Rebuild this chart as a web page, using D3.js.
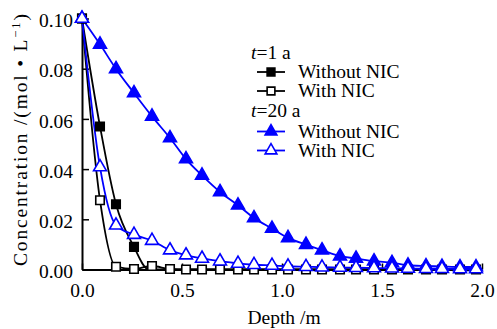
<!DOCTYPE html>
<html><head><meta charset="utf-8">
<script src="https://cdn.jsdelivr.net/npm/d3@7"></script>
<style>
html,body{margin:0;padding:0;background:#fff;}
svg{display:block;}
</style></head>
<body>
<svg id="chart" width="497" height="329"></svg>
<script>
// ---- data ----
const depthSq = [0, 0.09, 0.17, 0.26, 0.35, 0.44, 0.52, 0.60, 0.69, 0.78, 0.86, 0.95, 1.03, 1.12, 1.20, 1.29, 1.37, 1.46, 1.55, 1.63, 1.72, 1.80, 1.89, 1.97];
const t1WithoutDepth = [0, 0.09, 0.17, 0.26];
const t1WithoutConc  = [0.100, 0.057, 0.026, 0.009];
const t1WithoutTailDepth = [0.33, 0.40, 2.0];
const t1WithoutTailConc  = [0.0002, 0, 0];
const t1WithConc = [0.100, 0.0276, 0.0011, 0.0002, 0.0014, 0.0002, 0, 0, 0, 0, 0, 0, 0, 0, 0, 0, 0, 0, 0, 0, 0, 0, 0, 0];
const t20WithoutConc = [0.100, 0.0897, 0.0799, 0.0703, 0.0610, 0.0524, 0.0440, 0.0375, 0.0309, 0.0256, 0.0205, 0.0163, 0.0126, 0.0099, 0.0077, 0.0053, 0.0044, 0.0033, 0.0027, 0.0017, 0.0014, 0.0012, 0.0010, 0.0010];
const t20WithConc = [0.100, 0.0408, 0.0176, 0.0139, 0.0115, 0.0077, 0.0057, 0.0044, 0.0033, 0.0024, 0.0019, 0.0016, 0.0013, 0.0011, 0.0009, 0.0008, 0.0007, 0.0006, 0.0005, 0.0004, 0.0003, 0.0003, 0.0002, 0.0002];
const xTicks = [0, 0.5, 1.0, 1.5, 2.0];
const yTicks = [0, 0.02, 0.04, 0.06, 0.08, 0.10];
const legendRows = [
  {group: "t=1 a"},
  {label: "Without NIC", color: "#000", shape: "square", fill: "#000"},
  {label: "With NIC", color: "#000", shape: "square", fill: "#fff"},
  {group: "t=20 a"},
  {label: "Without NIC", color: "#0000ff", shape: "triangle", fill: "#0000ff"},
  {label: "With NIC", color: "#0000ff", shape: "triangle", fill: "#fff"}
];

// ---- chart ----
const FONT = "'Liberation Serif', 'Times New Roman', serif";
const svg = d3.select("#chart");
const x = d3.scaleLinear().domain([0, 2]).range([82, 482]);
const y = d3.scaleLinear().domain([0, 0.10]).range([269.5, 18.5]);
const FS = 19.5;
function txt(sel) { return sel.style("font-family", FONT).style("font-size", FS + "px").attr("fill", "#000"); }

// axes
const gx = svg.append("g").attr("transform", `translate(0,${y(0)})`)
  .call(d3.axisBottom(x).tickValues(xTicks).tickFormat(d3.format(".1f")).tickSizeInner(-6).tickSizeOuter(0).tickPadding(14));
const gy = svg.append("g").attr("transform", `translate(${x(0)},0)`)
  .call(d3.axisLeft(y).tickValues(yTicks).tickFormat(d3.format(".2f")).tickSizeInner(-7).tickSizeOuter(0).tickPadding(9));
[gx, gy].forEach(g => {
  g.selectAll("path.domain").attr("stroke", "#000").attr("stroke-width", 2);
  g.selectAll(".tick line").attr("stroke", "#000").attr("stroke-width", 1.5);
  txt(g.selectAll(".tick text"));
});
gy.selectAll(".tick text").attr("dy", "0.42em");

// axis titles
txt(svg.append("text").attr("x", 284).attr("y", 324).attr("text-anchor", "middle")).text("Depth /m");
const yl = txt(svg.append("text").attr("transform", `translate(27,140) rotate(-90)`)
  .attr("text-anchor", "middle").attr("textLength", 252).attr("lengthAdjust", "spacing"));
yl.append("tspan").text("Concentration /(mol • L");
yl.append("tspan").style("font-size", (FS*0.65) + "px").attr("dy", -7).text("−1");
yl.append("tspan").attr("dy", 7).text(")");

// lines
const line = d3.line().x(d => x(d[0])).y(d => y(d[1])).curve(d3.curveMonotoneX);
const ptsT1Without = t1WithoutDepth.map((d, i) => [d, t1WithoutConc[i]]);
const ptsT1WithoutLine = ptsT1Without.concat(t1WithoutTailDepth.map((d, i) => [d, t1WithoutTailConc[i]]));
const ptsT1With = depthSq.map((d, i) => [d, t1WithConc[i]]).concat([[2.0, 0]]);
const ptsT20Without = depthSq.map((d, i) => [d, t20WithoutConc[i]]);
const ptsT20With = depthSq.map((d, i) => [d, t20WithConc[i]]);

function drawLine(pts, color) {
  svg.append("path").datum(pts).attr("d", line).attr("fill", "none").attr("stroke", color).attr("stroke-width", 1.8);
}
drawLine(ptsT1WithoutLine, "#000");
drawLine(ptsT1With, "#000");
drawLine(ptsT20Without, "#0000ff");
drawLine(ptsT20With, "#0000ff");

const sq = d3.symbol().type(d3.symbolSquare).size(72);
const tri = d3.symbol().type(d3.symbolTriangle).size(72);
function drawMarkers(pts, gen, stroke, fill) {
  svg.append("g").selectAll("path").data(pts).join("path")
    .attr("d", gen).attr("transform", d => `translate(${x(d[0])},${y(d[1])})`)
    .attr("fill", fill).attr("stroke", stroke).attr("stroke-width", 1.6);
}
drawMarkers(ptsT1Without, sq, "#000", "#000");
drawMarkers(ptsT1With.slice(0, depthSq.length), sq, "#000", "#fff");
drawMarkers(ptsT20Without, tri, "#0000ff", "#0000ff");
drawMarkers(ptsT20With, tri, "#0000ff", "#fff");

// legend
const lg = svg.append("g");
const rowY = [53, 72, 91, 111, 131.5, 150.5];
legendRows.forEach((r, i) => {
  const yy = rowY[i];
  if (r.group) {
    const t = txt(lg.append("text").attr("x", 251).attr("y", yy + 6));
    const parts = r.group.split("=");
    t.append("tspan").style("font-style", "italic").text(parts[0]);
    t.append("tspan").text("=" + parts[1]);
  } else {
    lg.append("line").attr("x1", 257).attr("x2", 285).attr("y1", yy).attr("y2", yy)
      .attr("stroke", r.color).attr("stroke-width", 1.8);
    lg.append("path").attr("d", (r.shape === "square" ? d3.symbol().type(d3.symbolSquare).size(60) : d3.symbol().type(d3.symbolTriangle).size(60))())
      .attr("transform", `translate(271,${yy})`).attr("fill", r.fill).attr("stroke", r.color).attr("stroke-width", 1.6);
    txt(lg.append("text").attr("x", 298).attr("y", yy + 6)).text(r.label);
  }
});
</script>
</body></html>
